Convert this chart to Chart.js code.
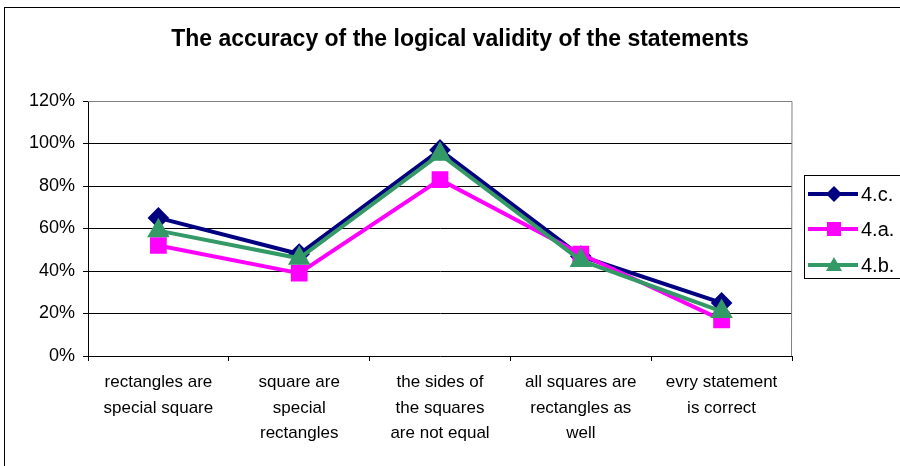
<!DOCTYPE html>
<html>
<head>
<meta charset="utf-8">
<script src="https://cdn.jsdelivr.net/npm/chart.js@4.4.1/dist/chart.umd.min.js"></script>
<style>
  html, body { margin: 0; padding: 0; background: #ffffff; }
  #wrap { width: 900px; height: 466px; position: relative; }
</style>
</head>
<body>
<div id="wrap"><canvas id="chart" width="900" height="466"></canvas></div>
<script>
// Statements (category axis), one wrapped label per statement
const categories = [
  ["rectangles are", "special square"],
  ["square are", "special", "rectangles"],
  ["the sides of", "the squares", "are not equal"],
  ["all squares are", "rectangles as", "well"],
  ["evry statement", "is correct"]
];

// Share of correct answers per statement, in percent
const series4c = [65, 48, 97, 47, 25];
const series4a = [52, 39, 83, 48, 17];
const series4b = [59, 46, 95, 45, 21];

const seriesNames = ["4.c.", "4.a.", "4.b."];
const yTicks = [0, 20, 40, 60, 80, 100, 120];

const chartTitle = "The accuracy of the logical validity of the statements";

const FONT = "'Liberation Sans', Arial, sans-serif";

// Outer frame, title and the boxed legend on the right
const framePlugin = {
  id: "frame",
  afterDraw(chart) {
    const ctx = chart.ctx;
    ctx.save();
    ctx.strokeStyle = "#000000";
    ctx.lineWidth = 1;
    ctx.strokeRect(4.5, 7.5, 905, 470);

    ctx.fillStyle = "#000000";
    ctx.font = "bold 23px " + FONT;
    ctx.textAlign = "center";
    ctx.textBaseline = "middle";
    ctx.fillText(chartTitle, 460, 40);

    // legend
    const lx = 804.5, ly = 175.5;
    ctx.strokeRect(lx, ly, 120, 103);
    const ds = chart.data.datasets;
    const rowY = [194, 229, 265];
    ds.forEach((d, i) => {
      const y = rowY[i];
      ctx.strokeStyle = d.borderColor;
      ctx.lineWidth = 4;
      ctx.beginPath();
      ctx.moveTo(808, y);
      ctx.lineTo(858, y);
      ctx.stroke();
      ctx.fillStyle = d.pointBackgroundColor;
      const cx = 834;
      ctx.beginPath();
      if (d.pointStyle === "rectRot") {
        ctx.moveTo(cx, y - 8); ctx.lineTo(cx + 8, y); ctx.lineTo(cx, y + 8); ctx.lineTo(cx - 8, y);
      } else if (d.pointStyle === "rect") {
        ctx.rect(cx - 7, y - 7, 14, 14);
      } else {
        ctx.moveTo(cx, y - 8); ctx.lineTo(cx + 8, y + 6); ctx.lineTo(cx - 8, y + 6);
      }
      ctx.closePath();
      ctx.fill();
      ctx.fillStyle = "#000000";
      ctx.font = "20px " + FONT;
      ctx.textAlign = "left";
      ctx.textBaseline = "middle";
      ctx.fillText(d.label, 861, y + 1);
    });
    ctx.restore();
  }
};

new Chart(document.getElementById("chart"), {
  type: "line",
  data: {
    labels: categories,
    datasets: [
      {
        label: seriesNames[0], data: series4c,
        borderColor: "#000080", backgroundColor: "#000080",
        pointBackgroundColor: "#000080", pointBorderColor: "#000080",
        pointStyle: "rectRot", pointRadius: 8, borderWidth: 4, order: 2
      },
      {
        label: seriesNames[1], data: series4a,
        borderColor: "#FF00FF", backgroundColor: "#FF00FF",
        pointBackgroundColor: "#FF00FF", pointBorderColor: "#FF00FF",
        pointStyle: "rect", pointRadius: 9, borderWidth: 4, order: 1
      },
      {
        label: seriesNames[2], data: series4b,
        borderColor: "#339966", backgroundColor: "#339966",
        pointBackgroundColor: "#339966", pointBorderColor: "#339966",
        pointStyle: "triangle", pointRadius: 9, borderWidth: 4, order: 0
      }
    ]
  },
  options: {
    responsive: false,
    animation: false,
    devicePixelRatio: 1,
    layout: { padding: { left: 0, right: 108, top: 101, bottom: 0 } },
    plugins: {
      legend: { display: false },
      title: { display: false },
      tooltip: { enabled: false }
    },
    scales: {
      x: {
        offset: true,
        grid: {
          display: true, drawOnChartArea: false, drawTicks: true,
          tickLength: 5, color: "#000000", offset: true
        },
        border: { color: "#000000", width: 1 },
        ticks: {
          color: "#000000", font: { family: FONT, size: 17, lineHeight: 1.5 },
          maxRotation: 0, autoSkip: false, padding: 9
        },
        afterFit(scale) { scale.height = 110; }
      },
      y: {
        min: 0, max: 120,
        afterBuildTicks(scale) { scale.ticks = yTicks.map(v => ({ value: v })); },
        grid: {
          color: (c) => c.tick && (c.tick.value === 0 || c.tick.value === 120) ? "rgba(0,0,0,0)" : "#000000",
          lineWidth: 1, drawTicks: true, tickLength: 5, tickColor: "#000000"
        },
        border: { color: "#000000", width: 1 },
        ticks: {
          color: "#000000", font: { family: FONT, size: 18 }, padding: 8,
          callback: (v) => v + "%"
        },
        afterFit(scale) { scale.width = 88; }
      }
    }
  },
  plugins: [framePlugin, {
    id: "plotBorder",
    beforeDatasetsDraw(chart) {
      const a = chart.chartArea, ctx = chart.ctx;
      ctx.save();
      ctx.strokeStyle = "#808080";
      ctx.lineWidth = 1;
      ctx.beginPath();
      ctx.moveTo(a.left, Math.round(a.top) + 0.5);
      ctx.lineTo(a.right, Math.round(a.top) + 0.5);
      ctx.lineTo(Math.round(a.right) - 0.5, a.bottom);
      ctx.stroke();
      ctx.restore();
    }
  }]
});
</script>
</body>
</html>
